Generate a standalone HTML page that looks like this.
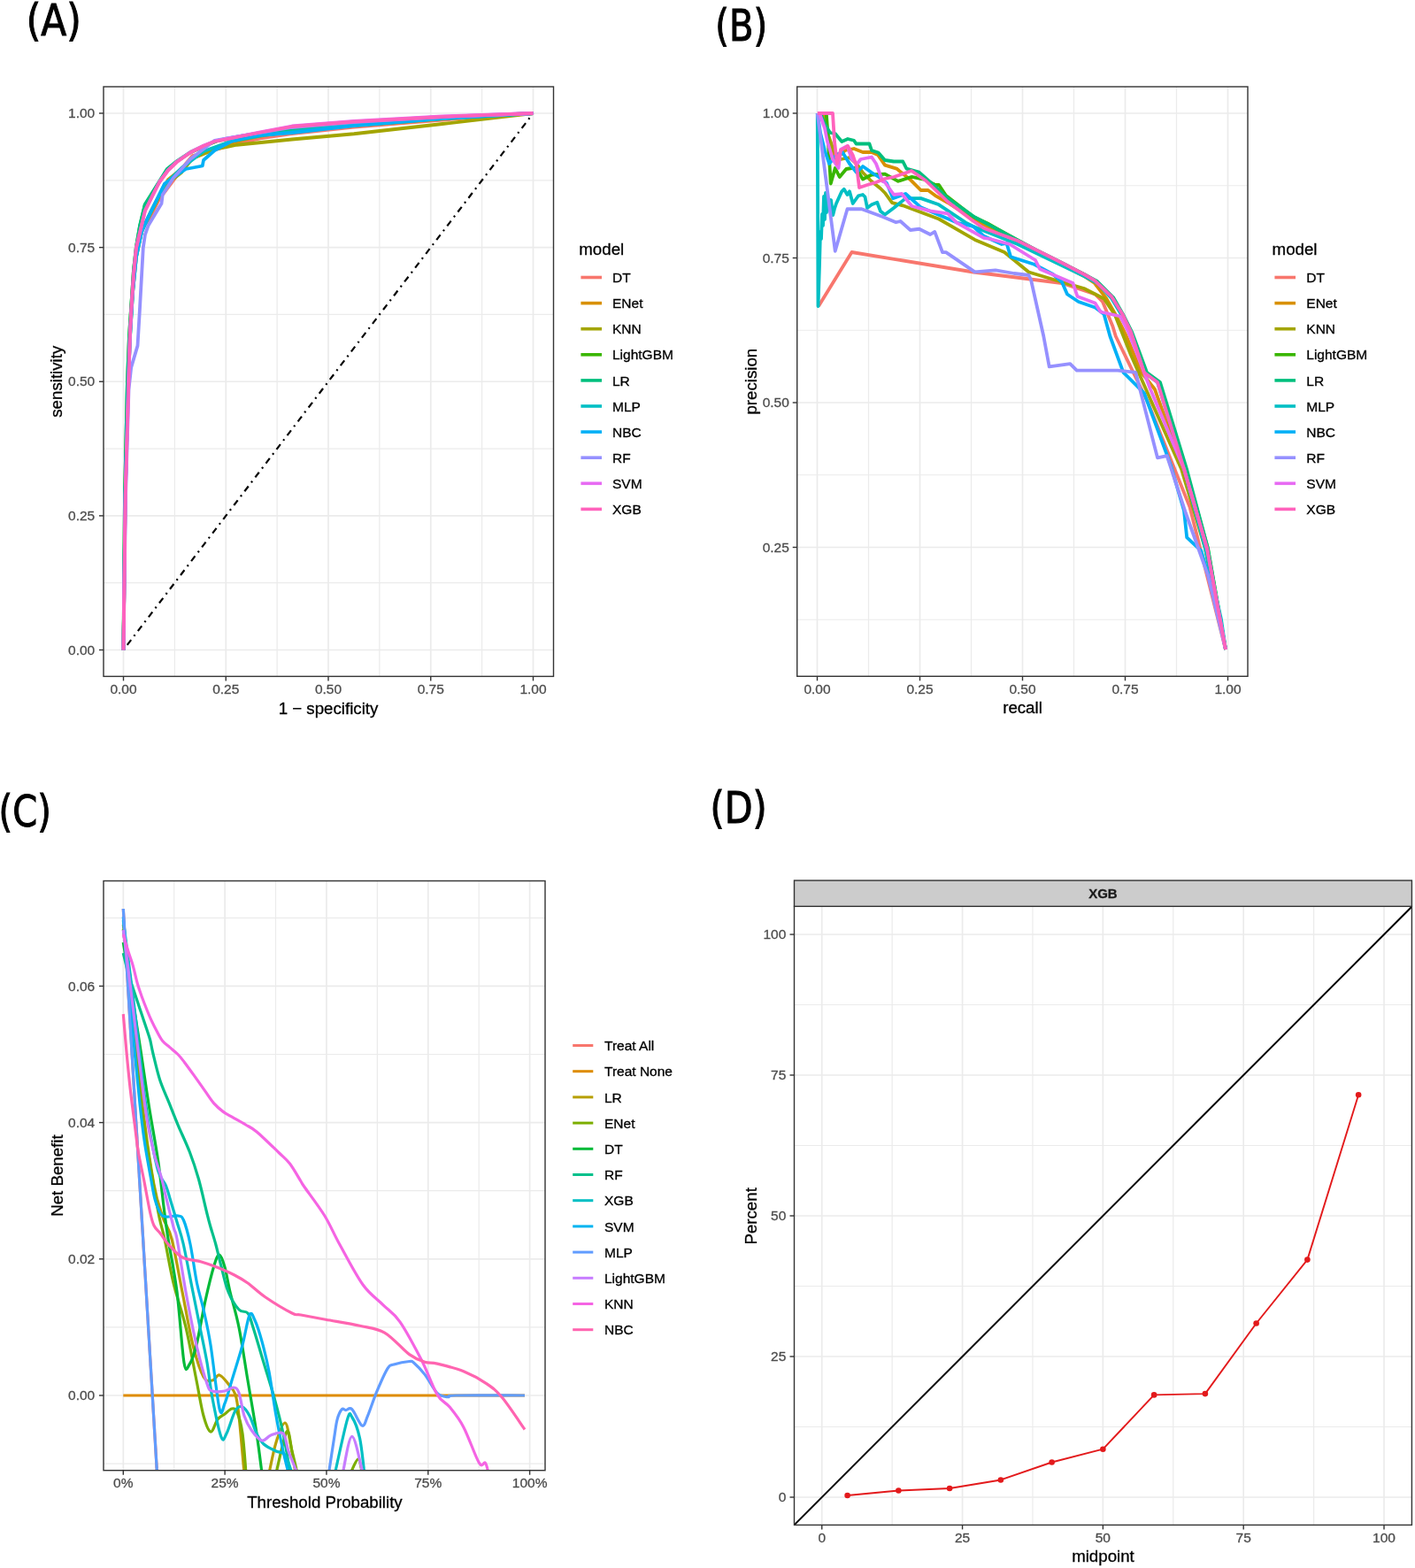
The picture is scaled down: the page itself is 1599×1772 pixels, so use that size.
<!DOCTYPE html>
<html><head><meta charset="utf-8"><title>Model evaluation plots</title>
<style>html,body{margin:0;padding:0;background:#fff;overflow:hidden;width:1599px;height:1772px;}svg{display:block;}
text{font-family:"Liberation Sans",Arial,sans-serif;}
.lab{font-family:"DejaVu Sans Condensed","DejaVu Sans","Liberation Sans",sans-serif;font-stretch:condensed;}
</style></head><body>
<svg width="1599" height="1772" viewBox="0 0 1599 1772">
<rect x="0" y="0" width="1599" height="1772" fill="#fff"/>
<rect x="117" y="98" width="508.5" height="666.4" fill="#fff"/>
<line x1="197.38" y1="98" x2="197.38" y2="764.4" stroke="#EBEBEB" stroke-width="1.2"/>
<line x1="313.12" y1="98" x2="313.12" y2="764.4" stroke="#EBEBEB" stroke-width="1.2"/>
<line x1="428.88" y1="98" x2="428.88" y2="764.4" stroke="#EBEBEB" stroke-width="1.2"/>
<line x1="544.62" y1="98" x2="544.62" y2="764.4" stroke="#EBEBEB" stroke-width="1.2"/>
<line x1="117" y1="658.69" x2="625.5" y2="658.69" stroke="#EBEBEB" stroke-width="1.2"/>
<line x1="117" y1="507.06" x2="625.5" y2="507.06" stroke="#EBEBEB" stroke-width="1.2"/>
<line x1="117" y1="355.44" x2="625.5" y2="355.44" stroke="#EBEBEB" stroke-width="1.2"/>
<line x1="117" y1="203.81" x2="625.5" y2="203.81" stroke="#EBEBEB" stroke-width="1.2"/>
<line x1="139.5" y1="98" x2="139.5" y2="764.4" stroke="#EBEBEB" stroke-width="1.7"/>
<line x1="255.25" y1="98" x2="255.25" y2="764.4" stroke="#EBEBEB" stroke-width="1.7"/>
<line x1="371" y1="98" x2="371" y2="764.4" stroke="#EBEBEB" stroke-width="1.7"/>
<line x1="486.75" y1="98" x2="486.75" y2="764.4" stroke="#EBEBEB" stroke-width="1.7"/>
<line x1="602.5" y1="98" x2="602.5" y2="764.4" stroke="#EBEBEB" stroke-width="1.7"/>
<line x1="117" y1="734.5" x2="625.5" y2="734.5" stroke="#EBEBEB" stroke-width="1.7"/>
<line x1="117" y1="582.88" x2="625.5" y2="582.88" stroke="#EBEBEB" stroke-width="1.7"/>
<line x1="117" y1="431.25" x2="625.5" y2="431.25" stroke="#EBEBEB" stroke-width="1.7"/>
<line x1="117" y1="279.62" x2="625.5" y2="279.62" stroke="#EBEBEB" stroke-width="1.7"/>
<line x1="117" y1="128" x2="625.5" y2="128" stroke="#EBEBEB" stroke-width="1.7"/>
<line x1="139.5" y1="734.5" x2="602.5" y2="128" stroke="#000" stroke-width="2.2" stroke-dasharray="7.2,5.3,2,5.36" stroke-dashoffset="12.8"/>
<polyline points="139.5,734.5 141.6,560 144.8,432 146.6,381 148.4,350 151.5,306 154.5,279 159.5,259 168.75,247.5 180,225 195,205 210,185 217.5,176 244.4,168.8 267,162.5 294,156.4 330,151 400,143.5 500,135.5 602.5,128" fill="none" stroke="#F8766D" stroke-width="3.8" stroke-linejoin="round" stroke-linecap="butt"/>
<polyline points="139.5,734.5 141.6,560 144.8,432 146.6,381 148.4,350 151.5,306 154.5,279 159.5,259 168,246 180,222 190,203 205,191 217.5,179 242.5,168.75 267,160 292.5,154 330,148 400,142 500,134.5 602.5,128" fill="none" stroke="#D89000" stroke-width="3.8" stroke-linejoin="round" stroke-linecap="butt"/>
<polyline points="139.5,734.5 141.5,560 145,430 147,380 150,330 154,290 160,262 170,240 186,210 205,195 217.5,178.75 242.5,168.75 267.5,163.75 330,157.5 400,151.25 500,140 602.5,128" fill="none" stroke="#A3A500" stroke-width="3.8" stroke-linejoin="round" stroke-linecap="butt"/>
<polyline points="139.5,734.5 141,560 144,430 146,380 148,350 151,305 154,279 158,256 163.75,232 175,214 188.75,192 200,182.5 215,172.5 230,165.5 245,159.5 270,154.5 300,149.5 330,145 400,139 500,133 602.5,128" fill="none" stroke="#39B600" stroke-width="3.8" stroke-linejoin="round" stroke-linecap="butt"/>
<polyline points="139.5,734.5 141,560 144,430 146,380 148,350 151,305 154,278 158,255 163.75,231 175,213 188.75,191 200,182 215,172 230,165 245,159 270,154 300,149 330,145 400,139 500,133 602.5,128" fill="none" stroke="#00BF7D" stroke-width="3.8" stroke-linejoin="round" stroke-linecap="butt"/>
<polyline points="139.5,734.5 141.5,560 145,430 147,380 150,330 154,290 160,262 167.5,246 186,208.5 205,190 230,171 260,160 300,152.5 330,149 400,141.5 500,134 602.5,128" fill="none" stroke="#00BFC4" stroke-width="3.8" stroke-linejoin="round" stroke-linecap="butt"/>
<polyline points="139.5,734.5 141.5,560 145,430 147,380 150,330 154,290 160,262 167.5,245 186,207.5 210,191 228.75,187.5 230,181 242.5,170 261,160 290,153 330,150 400,142 500,134 602.5,128" fill="none" stroke="#00B0F6" stroke-width="3.8" stroke-linejoin="round" stroke-linecap="butt"/>
<polyline points="139.5,734.5 142,560 145.5,440 148.2,415.4 155.5,390.6 157.8,352 161.8,280 164,265 167.5,255 182.5,230 183.75,220 196,201 215,180 242.5,158.75 270,154 300,149 330,144 400,138 500,132 602.5,128" fill="none" stroke="#9590FF" stroke-width="3.8" stroke-linejoin="round" stroke-linecap="butt"/>
<polyline points="139.5,734.5 141.8,557.8 145.4,431 146.9,380 148.3,352 151.1,310 154,280 158.9,259.5 164,238 172.2,221.5 180.2,205.5 190.2,192 200.2,182.5 215.2,172 230.2,164.5 242.7,159.5 267.7,154.5 292.7,149.5 330,142.5 400,137 500,131.5 602.5,128" fill="none" stroke="#E76BF3" stroke-width="3.8" stroke-linejoin="round" stroke-linecap="butt"/>
<polyline points="139.5,734.5 141.7,557.8 145.3,431 146.8,380 148.2,352 151,310 153.9,280 158.75,259.9 163.75,238.75 172,222 180,206 190,192.5 200,183 215,172.5 230,165 242.5,160 267.5,155 292.5,150 330,143 400,137.5 500,132 602.5,128" fill="none" stroke="#FF62BC" stroke-width="3.8" stroke-linejoin="round" stroke-linecap="butt"/>
<rect x="117" y="98" width="508.5" height="666.4" fill="none" stroke="#333333" stroke-width="1.4"/>
<line x1="139.5" y1="764.4" x2="139.5" y2="769.4" stroke="#333333" stroke-width="1.4"/>
<text x="139.5" y="784.3" font-size="15.5" fill="#4D4D4D" stroke="#4D4D4D" stroke-width="0.3" text-anchor="middle">0.00</text>
<line x1="255.25" y1="764.4" x2="255.25" y2="769.4" stroke="#333333" stroke-width="1.4"/>
<text x="255.25" y="784.3" font-size="15.5" fill="#4D4D4D" stroke="#4D4D4D" stroke-width="0.3" text-anchor="middle">0.25</text>
<line x1="371" y1="764.4" x2="371" y2="769.4" stroke="#333333" stroke-width="1.4"/>
<text x="371" y="784.3" font-size="15.5" fill="#4D4D4D" stroke="#4D4D4D" stroke-width="0.3" text-anchor="middle">0.50</text>
<line x1="486.75" y1="764.4" x2="486.75" y2="769.4" stroke="#333333" stroke-width="1.4"/>
<text x="486.75" y="784.3" font-size="15.5" fill="#4D4D4D" stroke="#4D4D4D" stroke-width="0.3" text-anchor="middle">0.75</text>
<line x1="602.5" y1="764.4" x2="602.5" y2="769.4" stroke="#333333" stroke-width="1.4"/>
<text x="602.5" y="784.3" font-size="15.5" fill="#4D4D4D" stroke="#4D4D4D" stroke-width="0.3" text-anchor="middle">1.00</text>
<line x1="112" y1="734.5" x2="117" y2="734.5" stroke="#333333" stroke-width="1.4"/>
<text x="107.2" y="739.6" font-size="15.5" fill="#4D4D4D" stroke="#4D4D4D" stroke-width="0.3" text-anchor="end">0.00</text>
<line x1="112" y1="582.88" x2="117" y2="582.88" stroke="#333333" stroke-width="1.4"/>
<text x="107.2" y="587.98" font-size="15.5" fill="#4D4D4D" stroke="#4D4D4D" stroke-width="0.3" text-anchor="end">0.25</text>
<line x1="112" y1="431.25" x2="117" y2="431.25" stroke="#333333" stroke-width="1.4"/>
<text x="107.2" y="436.35" font-size="15.5" fill="#4D4D4D" stroke="#4D4D4D" stroke-width="0.3" text-anchor="end">0.50</text>
<line x1="112" y1="279.62" x2="117" y2="279.62" stroke="#333333" stroke-width="1.4"/>
<text x="107.2" y="284.73" font-size="15.5" fill="#4D4D4D" stroke="#4D4D4D" stroke-width="0.3" text-anchor="end">0.75</text>
<line x1="112" y1="128" x2="117" y2="128" stroke="#333333" stroke-width="1.4"/>
<text x="107.2" y="133.1" font-size="15.5" fill="#4D4D4D" stroke="#4D4D4D" stroke-width="0.3" text-anchor="end">1.00</text>
<text x="371" y="806.5" font-size="18.7" fill="#000" stroke="#000" stroke-width="0.3" text-anchor="middle">1 &#8722; specificity</text>
<text x="0" y="0" font-size="18.7" fill="#000" stroke="#000" stroke-width="0.3" text-anchor="middle" transform="translate(70.3,431.25) rotate(-90)">sensitivity</text>
<text x="654.3" y="287.8" font-size="18.7" fill="#000" stroke="#000" stroke-width="0.3" text-anchor="start">model</text>
<line x1="656.4" y1="313.5" x2="680" y2="313.5" stroke="#F8766D" stroke-width="3.6"/>
<text x="692" y="319.1" font-size="15.5" fill="#000" stroke="#000" stroke-width="0.3" text-anchor="start">DT</text>
<line x1="656.4" y1="342.6" x2="680" y2="342.6" stroke="#D89000" stroke-width="3.6"/>
<text x="692" y="348.2" font-size="15.5" fill="#000" stroke="#000" stroke-width="0.3" text-anchor="start">ENet</text>
<line x1="656.4" y1="371.7" x2="680" y2="371.7" stroke="#A3A500" stroke-width="3.6"/>
<text x="692" y="377.3" font-size="15.5" fill="#000" stroke="#000" stroke-width="0.3" text-anchor="start">KNN</text>
<line x1="656.4" y1="400.8" x2="680" y2="400.8" stroke="#39B600" stroke-width="3.6"/>
<text x="692" y="406.4" font-size="15.5" fill="#000" stroke="#000" stroke-width="0.3" text-anchor="start">LightGBM</text>
<line x1="656.4" y1="429.9" x2="680" y2="429.9" stroke="#00BF7D" stroke-width="3.6"/>
<text x="692" y="435.5" font-size="15.5" fill="#000" stroke="#000" stroke-width="0.3" text-anchor="start">LR</text>
<line x1="656.4" y1="459" x2="680" y2="459" stroke="#00BFC4" stroke-width="3.6"/>
<text x="692" y="464.6" font-size="15.5" fill="#000" stroke="#000" stroke-width="0.3" text-anchor="start">MLP</text>
<line x1="656.4" y1="488.1" x2="680" y2="488.1" stroke="#00B0F6" stroke-width="3.6"/>
<text x="692" y="493.7" font-size="15.5" fill="#000" stroke="#000" stroke-width="0.3" text-anchor="start">NBC</text>
<line x1="656.4" y1="517.2" x2="680" y2="517.2" stroke="#9590FF" stroke-width="3.6"/>
<text x="692" y="522.8" font-size="15.5" fill="#000" stroke="#000" stroke-width="0.3" text-anchor="start">RF</text>
<line x1="656.4" y1="546.3" x2="680" y2="546.3" stroke="#E76BF3" stroke-width="3.6"/>
<text x="692" y="551.9" font-size="15.5" fill="#000" stroke="#000" stroke-width="0.3" text-anchor="start">SVM</text>
<line x1="656.4" y1="575.4" x2="680" y2="575.4" stroke="#FF62BC" stroke-width="3.6"/>
<text x="692" y="581" font-size="15.5" fill="#000" stroke="#000" stroke-width="0.3" text-anchor="start">XGB</text>
<rect x="900.75" y="98" width="509.25" height="666.3" fill="#fff"/>
<line x1="981.5" y1="98" x2="981.5" y2="764.3" stroke="#EBEBEB" stroke-width="1.2"/>
<line x1="1097.5" y1="98" x2="1097.5" y2="764.3" stroke="#EBEBEB" stroke-width="1.2"/>
<line x1="1213.5" y1="98" x2="1213.5" y2="764.3" stroke="#EBEBEB" stroke-width="1.2"/>
<line x1="1329.5" y1="98" x2="1329.5" y2="764.3" stroke="#EBEBEB" stroke-width="1.2"/>
<line x1="900.75" y1="700.25" x2="1410" y2="700.25" stroke="#EBEBEB" stroke-width="1.2"/>
<line x1="900.75" y1="536.75" x2="1410" y2="536.75" stroke="#EBEBEB" stroke-width="1.2"/>
<line x1="900.75" y1="373.25" x2="1410" y2="373.25" stroke="#EBEBEB" stroke-width="1.2"/>
<line x1="900.75" y1="209.75" x2="1410" y2="209.75" stroke="#EBEBEB" stroke-width="1.2"/>
<line x1="923.5" y1="98" x2="923.5" y2="764.3" stroke="#EBEBEB" stroke-width="1.7"/>
<line x1="1039.5" y1="98" x2="1039.5" y2="764.3" stroke="#EBEBEB" stroke-width="1.7"/>
<line x1="1155.5" y1="98" x2="1155.5" y2="764.3" stroke="#EBEBEB" stroke-width="1.7"/>
<line x1="1271.5" y1="98" x2="1271.5" y2="764.3" stroke="#EBEBEB" stroke-width="1.7"/>
<line x1="1387.5" y1="98" x2="1387.5" y2="764.3" stroke="#EBEBEB" stroke-width="1.7"/>
<line x1="900.75" y1="618.5" x2="1410" y2="618.5" stroke="#EBEBEB" stroke-width="1.7"/>
<line x1="900.75" y1="455" x2="1410" y2="455" stroke="#EBEBEB" stroke-width="1.7"/>
<line x1="900.75" y1="291.5" x2="1410" y2="291.5" stroke="#EBEBEB" stroke-width="1.7"/>
<line x1="900.75" y1="128" x2="1410" y2="128" stroke="#EBEBEB" stroke-width="1.7"/>
<polyline points="925,346 962.5,285 1100,307.5 1200,320 1237.5,332.5 1246,341 1257.5,369 1260.8,380 1297.3,455 1344.5,573 1385,734" fill="none" stroke="#F8766D" stroke-width="3.8" stroke-linejoin="round" stroke-linecap="butt"/>
<polyline points="930,128 935,150 940,170 945,180 955,170 965,168 975,172 985,172 992,175 1000,186.6 1013.2,190.6 1029.5,203.8 1040.6,215 1048.8,215 1056.9,221.1 1071,229 1100,248 1145,270 1170,283 1200,299 1225,312 1237,320 1250,337 1262,358 1272,378 1290,421 1305,440 1337,530 1363,620 1385,734" fill="none" stroke="#D89000" stroke-width="3.8" stroke-linejoin="round" stroke-linecap="butt"/>
<polyline points="928,128 935,150 942,170 950,180 960,178 968,185 975,195 985,205 995,213 1000,218 1008.1,229.2 1020.3,232.3 1061,247.5 1101.6,270.9 1135,285 1150,297.3 1162.5,307.5 1200,318.75 1225,326 1247.5,337.5 1260,356 1277.5,400 1295,440 1335,530 1362,620 1385,734" fill="none" stroke="#A3A500" stroke-width="3.8" stroke-linejoin="round" stroke-linecap="butt"/>
<polyline points="933.75,128 935,145 936,162.5 938.75,207.5 943.75,190 948.75,200 956.25,191 962.5,190 967.5,190 975,202.5 985,197.5 1000,196.7 1015,204.8 1030.5,199.8 1045,203 1057,209 1061,209 1069,221 1100,245 1116,252.5 1145,268.75 1170,282.5 1200,297.5 1225,310 1237.5,317.5 1256,335 1268.75,356 1277.5,375 1295,421 1310,432 1340,530 1365,620 1385,734" fill="none" stroke="#39B600" stroke-width="3.8" stroke-linejoin="round" stroke-linecap="butt"/>
<polyline points="927,128 932,140 938,150 943.75,151 951.25,160 958,157 965,158.75 967.5,162.5 982.5,162.5 985,170 992.5,172.5 1000,181 1010,182.5 1020.3,182.5 1024.4,190.6 1038.6,194.7 1054.8,208.9 1071.1,224.1 1101.6,245.5 1147.3,269.9 1170,282 1200,297 1225,310 1240,318 1258,336 1270,357 1279,375 1296,421 1311,432 1341,530 1365,620 1385,734" fill="none" stroke="#00BF7D" stroke-width="3.8" stroke-linejoin="round" stroke-linecap="butt"/>
<polyline points="923.75,128 924.5,346 926,300 927,262 928,270 929,242 930,255 931,222 932,248 933,218 934,240 935,228.75 937,236 939,226 941.25,243 943,236 945,230 951.25,216.25 953.75,213.75 957.5,220 960,216.25 963.75,230 970,221.25 975,220 977.5,222.5 980,235 985,231.25 991.25,228.75 995,238.75 1000,242.5 1010,235 1023.4,224.1 1040.6,224.1 1061,231.3 1091.4,251.6 1100,256 1150,276 1200,300 1225,312 1240,320 1256,337 1268,357 1278,376 1293,421 1308,432 1338,530 1362,620 1380,700 1385,734" fill="none" stroke="#00BFC4" stroke-width="3.8" stroke-linejoin="round" stroke-linecap="butt"/>
<polyline points="923.75,128 927,150 932,170 937,185 945,175 952,172 960,185 968,195 975,188 985,195 993,200 1002,206.9 1009.1,224.1 1023.4,219 1040.6,234.3 1081.3,251.6 1100,256 1111.7,266.8 1132,276 1137.5,275 1142.2,290.2 1168.75,298.75 1190,310 1200,318.75 1206,332.5 1218.75,341 1237.5,347.5 1247.5,355 1254.4,380 1269.4,420.8 1293,444.3 1323,525.8 1338,577.3 1341.2,607.3 1357.3,622.4 1374.5,680.3 1385,734" fill="none" stroke="#00B0F6" stroke-width="3.8" stroke-linejoin="round" stroke-linecap="butt"/>
<polyline points="923.75,128 943.75,283.75 957.5,236.25 973.75,236.25 997.5,245 1012.5,251.25 1017.5,250 1028.75,260 1038.75,258.75 1051.25,265 1056.25,261.9 1065,285 1069,285.1 1101.6,307.4 1124.9,305.4 1146,309 1162.5,311 1165,316 1179.3,380 1185.7,414.3 1209.3,411.1 1216.8,418.6 1230.8,418.6 1263,418.6 1283.3,420.8 1308,517.3 1318.7,515.1 1340,580 1365,650 1385,734" fill="none" stroke="#9590FF" stroke-width="3.8" stroke-linejoin="round" stroke-linecap="butt"/>
<polyline points="926,128 932,145 935,160 941,180 947.5,190 950,169 957.5,165 962.5,180 968.75,185 972.5,180 985,177.5 990,185 997.5,205 1000,206 1010,220 1019,219 1030.5,233 1050.8,238.4 1071,241.4 1081,251.6 1111.7,268.8 1118.75,270 1141,276 1170,294 1175,304 1212.5,320 1217.5,335 1237.5,342.5 1243.75,352.5 1266,357.5 1275,375 1285,400 1300,440 1338,530 1364,620 1385,734" fill="none" stroke="#E76BF3" stroke-width="3.8" stroke-linejoin="round" stroke-linecap="butt"/>
<polyline points="923.75,128 941,128 943,160 946,185 950,170 958,165 964,176 968,188 971,212 980,209 990,206 1000,202 1010,200 1030,193 1046,204 1071,228 1100,250 1112,258 1150,272 1170,282 1200,297 1225,310 1237,317 1256,335 1269,356 1278,375 1293,421 1308,432 1338,530 1364,620 1385,734" fill="none" stroke="#FF62BC" stroke-width="3.8" stroke-linejoin="round" stroke-linecap="butt"/>
<rect x="900.75" y="98" width="509.25" height="666.3" fill="none" stroke="#333333" stroke-width="1.4"/>
<line x1="923.5" y1="764.3" x2="923.5" y2="769.3" stroke="#333333" stroke-width="1.4"/>
<text x="923.5" y="784" font-size="15.5" fill="#4D4D4D" stroke="#4D4D4D" stroke-width="0.3" text-anchor="middle">0.00</text>
<line x1="1039.5" y1="764.3" x2="1039.5" y2="769.3" stroke="#333333" stroke-width="1.4"/>
<text x="1039.5" y="784" font-size="15.5" fill="#4D4D4D" stroke="#4D4D4D" stroke-width="0.3" text-anchor="middle">0.25</text>
<line x1="1155.5" y1="764.3" x2="1155.5" y2="769.3" stroke="#333333" stroke-width="1.4"/>
<text x="1155.5" y="784" font-size="15.5" fill="#4D4D4D" stroke="#4D4D4D" stroke-width="0.3" text-anchor="middle">0.50</text>
<line x1="1271.5" y1="764.3" x2="1271.5" y2="769.3" stroke="#333333" stroke-width="1.4"/>
<text x="1271.5" y="784" font-size="15.5" fill="#4D4D4D" stroke="#4D4D4D" stroke-width="0.3" text-anchor="middle">0.75</text>
<line x1="1387.5" y1="764.3" x2="1387.5" y2="769.3" stroke="#333333" stroke-width="1.4"/>
<text x="1387.5" y="784" font-size="15.5" fill="#4D4D4D" stroke="#4D4D4D" stroke-width="0.3" text-anchor="middle">1.00</text>
<line x1="895.75" y1="618.5" x2="900.75" y2="618.5" stroke="#333333" stroke-width="1.4"/>
<text x="891.8" y="623.6" font-size="15.5" fill="#4D4D4D" stroke="#4D4D4D" stroke-width="0.3" text-anchor="end">0.25</text>
<line x1="895.75" y1="455" x2="900.75" y2="455" stroke="#333333" stroke-width="1.4"/>
<text x="891.8" y="460.1" font-size="15.5" fill="#4D4D4D" stroke="#4D4D4D" stroke-width="0.3" text-anchor="end">0.50</text>
<line x1="895.75" y1="291.5" x2="900.75" y2="291.5" stroke="#333333" stroke-width="1.4"/>
<text x="891.8" y="296.6" font-size="15.5" fill="#4D4D4D" stroke="#4D4D4D" stroke-width="0.3" text-anchor="end">0.75</text>
<line x1="895.75" y1="128" x2="900.75" y2="128" stroke="#333333" stroke-width="1.4"/>
<text x="891.8" y="133.1" font-size="15.5" fill="#4D4D4D" stroke="#4D4D4D" stroke-width="0.3" text-anchor="end">1.00</text>
<text x="1155.5" y="806.3" font-size="18.7" fill="#000" stroke="#000" stroke-width="0.3" text-anchor="middle">recall</text>
<text x="0" y="0" font-size="18.7" fill="#000" stroke="#000" stroke-width="0.3" text-anchor="middle" transform="translate(854.5,431.15) rotate(-90)">precision</text>
<text x="1437.6" y="287.8" font-size="18.7" fill="#000" stroke="#000" stroke-width="0.3" text-anchor="start">model</text>
<line x1="1440.4" y1="313.5" x2="1464" y2="313.5" stroke="#F8766D" stroke-width="3.6"/>
<text x="1476.3" y="319.1" font-size="15.5" fill="#000" stroke="#000" stroke-width="0.3" text-anchor="start">DT</text>
<line x1="1440.4" y1="342.6" x2="1464" y2="342.6" stroke="#D89000" stroke-width="3.6"/>
<text x="1476.3" y="348.2" font-size="15.5" fill="#000" stroke="#000" stroke-width="0.3" text-anchor="start">ENet</text>
<line x1="1440.4" y1="371.7" x2="1464" y2="371.7" stroke="#A3A500" stroke-width="3.6"/>
<text x="1476.3" y="377.3" font-size="15.5" fill="#000" stroke="#000" stroke-width="0.3" text-anchor="start">KNN</text>
<line x1="1440.4" y1="400.8" x2="1464" y2="400.8" stroke="#39B600" stroke-width="3.6"/>
<text x="1476.3" y="406.4" font-size="15.5" fill="#000" stroke="#000" stroke-width="0.3" text-anchor="start">LightGBM</text>
<line x1="1440.4" y1="429.9" x2="1464" y2="429.9" stroke="#00BF7D" stroke-width="3.6"/>
<text x="1476.3" y="435.5" font-size="15.5" fill="#000" stroke="#000" stroke-width="0.3" text-anchor="start">LR</text>
<line x1="1440.4" y1="459" x2="1464" y2="459" stroke="#00BFC4" stroke-width="3.6"/>
<text x="1476.3" y="464.6" font-size="15.5" fill="#000" stroke="#000" stroke-width="0.3" text-anchor="start">MLP</text>
<line x1="1440.4" y1="488.1" x2="1464" y2="488.1" stroke="#00B0F6" stroke-width="3.6"/>
<text x="1476.3" y="493.7" font-size="15.5" fill="#000" stroke="#000" stroke-width="0.3" text-anchor="start">NBC</text>
<line x1="1440.4" y1="517.2" x2="1464" y2="517.2" stroke="#9590FF" stroke-width="3.6"/>
<text x="1476.3" y="522.8" font-size="15.5" fill="#000" stroke="#000" stroke-width="0.3" text-anchor="start">RF</text>
<line x1="1440.4" y1="546.3" x2="1464" y2="546.3" stroke="#E76BF3" stroke-width="3.6"/>
<text x="1476.3" y="551.9" font-size="15.5" fill="#000" stroke="#000" stroke-width="0.3" text-anchor="start">SVM</text>
<line x1="1440.4" y1="575.4" x2="1464" y2="575.4" stroke="#FF62BC" stroke-width="3.6"/>
<text x="1476.3" y="581" font-size="15.5" fill="#000" stroke="#000" stroke-width="0.3" text-anchor="start">XGB</text>
<rect x="117" y="995.5" width="499" height="666.2" fill="#fff"/>
<line x1="196.71" y1="995.5" x2="196.71" y2="1661.7" stroke="#EBEBEB" stroke-width="1.2"/>
<line x1="311.54" y1="995.5" x2="311.54" y2="1661.7" stroke="#EBEBEB" stroke-width="1.2"/>
<line x1="426.36" y1="995.5" x2="426.36" y2="1661.7" stroke="#EBEBEB" stroke-width="1.2"/>
<line x1="541.19" y1="995.5" x2="541.19" y2="1661.7" stroke="#EBEBEB" stroke-width="1.2"/>
<line x1="117" y1="1654.1" x2="616" y2="1654.1" stroke="#EBEBEB" stroke-width="1.2"/>
<line x1="117" y1="1499.9" x2="616" y2="1499.9" stroke="#EBEBEB" stroke-width="1.2"/>
<line x1="117" y1="1345.7" x2="616" y2="1345.7" stroke="#EBEBEB" stroke-width="1.2"/>
<line x1="117" y1="1191.5" x2="616" y2="1191.5" stroke="#EBEBEB" stroke-width="1.2"/>
<line x1="117" y1="1037.3" x2="616" y2="1037.3" stroke="#EBEBEB" stroke-width="1.2"/>
<line x1="139.3" y1="995.5" x2="139.3" y2="1661.7" stroke="#EBEBEB" stroke-width="1.7"/>
<line x1="254.12" y1="995.5" x2="254.12" y2="1661.7" stroke="#EBEBEB" stroke-width="1.7"/>
<line x1="368.95" y1="995.5" x2="368.95" y2="1661.7" stroke="#EBEBEB" stroke-width="1.7"/>
<line x1="483.78" y1="995.5" x2="483.78" y2="1661.7" stroke="#EBEBEB" stroke-width="1.7"/>
<line x1="598.6" y1="995.5" x2="598.6" y2="1661.7" stroke="#EBEBEB" stroke-width="1.7"/>
<line x1="117" y1="1577" x2="616" y2="1577" stroke="#EBEBEB" stroke-width="1.7"/>
<line x1="117" y1="1422.8" x2="616" y2="1422.8" stroke="#EBEBEB" stroke-width="1.7"/>
<line x1="117" y1="1268.6" x2="616" y2="1268.6" stroke="#EBEBEB" stroke-width="1.7"/>
<line x1="117" y1="1114.4" x2="616" y2="1114.4" stroke="#EBEBEB" stroke-width="1.7"/>
<clipPath id="clipC"><rect x="117.0" y="995.5" width="499.0" height="666.2"/></clipPath>
<g clip-path="url(#clipC)">
<polyline points="139.3,1027 177.5,1665" fill="none" stroke="#F8766D" stroke-width="3.2" stroke-linejoin="round" stroke-linecap="butt"/>
<polyline points="139.3,1577 593,1577" fill="none" stroke="#DE8C00" stroke-width="3.2" stroke-linejoin="round" stroke-linecap="butt"/>
<path d="M139.3,1045 C141.08,1059.17 146.34,1095.83 150,1130 C153.66,1164.17 157.29,1215.42 161.25,1250 C165.21,1284.58 170,1316.67 173.75,1337.5 C177.5,1358.33 180.38,1364.58 183.75,1375 C187.12,1385.42 190.29,1385.83 194,1400 C197.71,1414.17 202,1440 206,1460 C210,1480 214,1504 218,1520 C222,1536 226.33,1549.33 230,1556 C233.67,1562.67 237,1560.33 240,1560 C243,1559.67 245,1553.33 248,1554 C251,1554.67 255,1560.33 258,1564 C261,1567.67 264,1570 266,1576 C268,1582 268.33,1585.17 270,1600 C271.67,1614.83 275,1654.17 276,1665" fill="none" stroke="#B79F00" stroke-width="3.2" stroke-linejoin="round"/>
<path d="M304,1665 C305.33,1659.17 309,1639.5 312,1630 C315,1620.5 319.33,1608 322,1608 C324.67,1608 326,1620.5 328,1630 C330,1639.5 333,1659.17 334,1665" fill="none" stroke="#B79F00" stroke-width="3.2" stroke-linejoin="round"/>
<path d="M139.3,1050 C141.08,1065 146.55,1106.67 150,1140 C153.45,1173.33 155.42,1212.92 160,1250 C164.58,1287.08 173.17,1337.5 177.5,1362.5 C181.83,1387.5 182.92,1385.42 186,1400 C189.08,1414.58 192,1433.33 196,1450 C200,1466.67 205.67,1481.67 210,1500 C214.33,1518.33 218.67,1543.33 222,1560 C225.33,1576.67 227.33,1590.33 230,1600 C232.67,1609.67 235.33,1617.33 238,1618 C240.67,1618.67 243.33,1607.33 246,1604 C248.67,1600.67 251.33,1600 254,1598 C256.67,1596 259.67,1592.33 262,1592 C264.33,1591.67 266,1591.33 268,1596 C270,1600.67 272.33,1608.5 274,1620 C275.67,1631.5 277.33,1657.5 278,1665" fill="none" stroke="#7CAE00" stroke-width="3.2" stroke-linejoin="round"/>
<path d="M312,1665 C314,1657.17 321,1622.17 324,1618 C327,1613.83 328,1632.17 330,1640 C332,1647.83 335,1660.83 336,1665" fill="none" stroke="#7CAE00" stroke-width="3.2" stroke-linejoin="round"/>
<path d="M396,1665 C397.47,1662.3 402.6,1648.8 404.8,1648.8 C407,1648.8 408.47,1662.3 409.2,1665" fill="none" stroke="#7CAE00" stroke-width="3.2" stroke-linejoin="round"/>
<path d="M139.3,1065 C141.08,1075.83 146.65,1109.17 150,1130 C153.35,1150.83 156.32,1169.83 159.4,1190 C162.48,1210.17 165.28,1230.67 168.5,1251 C171.72,1271.33 175.82,1292.17 178.7,1312 C181.58,1331.83 183.92,1355.33 185.8,1370 C187.68,1384.67 187.63,1385 190,1400 C192.37,1415 197,1436.67 200,1460 C203,1483.33 205.67,1526.33 208,1540 C210.33,1553.67 211.67,1545.33 214,1542 C216.33,1538.67 219,1532 222,1520 C225,1508 228.67,1485 232,1470 C235.33,1455 239.33,1438.67 242,1430 C244.67,1421.33 246,1417.67 248,1418 C250,1418.33 252,1425 254,1432 C256,1439 257.33,1448.67 260,1460 C262.67,1471.33 266.67,1483.33 270,1500 C273.33,1516.67 276.67,1540 280,1560 C283.33,1580 287.33,1602.5 290,1620 C292.67,1637.5 295,1657.5 296,1665" fill="none" stroke="#00BA38" stroke-width="3.2" stroke-linejoin="round"/>
<path d="M139.3,1077 C140.28,1081.05 143.38,1094.72 145.2,1101.3 C147.02,1107.88 148.52,1111.42 150.2,1116.5 C151.88,1121.58 153.6,1126.72 155.3,1131.8 C157,1136.88 158.7,1141.92 160.4,1147 C162.1,1152.08 163.97,1157.63 165.5,1162.3 C167.03,1166.97 168.38,1170.38 169.6,1175 C170.82,1179.62 170.95,1182.42 172.8,1190 C174.65,1197.58 177.68,1211.18 180.7,1220.5 C183.72,1229.82 187.5,1237.43 190.9,1245.9 C194.3,1254.37 197.2,1261.98 201.1,1271.3 C205,1280.62 210.42,1291.63 214.3,1301.8 C218.18,1311.97 221.18,1320.93 224.4,1332.3 C227.62,1343.67 231.42,1361.22 233.6,1370 C235.78,1378.78 235.81,1379 237.5,1385 C239.19,1391 241.67,1398.33 243.75,1406 C245.83,1413.67 247.62,1422 250,1431 C252.38,1440 254.67,1451.83 258,1460 C261.33,1468.17 266.33,1476 270,1480 C273.67,1484 277.33,1480.67 280,1484 C282.67,1487.33 283,1490.67 286,1500 C289,1509.33 294,1526.67 298,1540 C302,1553.33 306.33,1566.67 310,1580 C313.67,1593.33 317,1605.83 320,1620 C323,1634.17 326.67,1657.5 328,1665" fill="none" stroke="#00C08B" stroke-width="3.2" stroke-linejoin="round"/>
<path d="M139.3,1040 C141.42,1056.67 147.72,1105 152,1140 C156.28,1175 160.75,1220.17 165,1250 C169.25,1279.83 173.75,1304 177.5,1319 C181.25,1334 185,1333.83 187.5,1340 C190,1346.17 190.42,1349.17 192.5,1356 C194.58,1362.83 197.58,1372.83 200,1381 C202.42,1389.17 204.17,1392.67 207,1405 C209.83,1417.33 213.83,1439.17 217,1455 C220.17,1470.83 223.17,1485.83 226,1500 C228.83,1514.17 231.67,1526.67 234,1540 C236.33,1553.33 237.33,1566 240,1580 C242.67,1594 247.33,1617.33 250,1624 C252.67,1630.67 253.33,1625 256,1620 C258.67,1615 263,1599 266,1594 C269,1589 271.33,1589 274,1590 C276.67,1591 279.33,1595 282,1600 C284.67,1605 287.33,1614.67 290,1620 C292.67,1625.33 294.33,1628.67 298,1632 C301.67,1635.33 308,1638 312,1640 C316,1642 319,1639.83 322,1644 C325,1648.17 328.67,1661.5 330,1665" fill="none" stroke="#00BFC4" stroke-width="3.2" stroke-linejoin="round"/>
<path d="M378.5,1665 C380.83,1654.85 389.28,1614.68 392.5,1604.1 C395.72,1593.52 395.47,1598 397.8,1601.5 C400.13,1605 404.17,1614.52 406.5,1625.1 C408.83,1635.68 410.92,1658.35 411.8,1665" fill="none" stroke="#00BFC4" stroke-width="3.2" stroke-linejoin="round"/>
<path d="M139.3,1036 C140.42,1050 143.83,1094.33 146,1120 C148.17,1145.67 150.23,1168.17 152.3,1190 C154.37,1211.83 156.53,1234.07 158.4,1251 C160.27,1267.93 161.47,1278.05 163.5,1291.6 C165.53,1305.15 168.68,1321.73 170.6,1332.3 C172.52,1342.87 173.22,1348.55 175,1355 C176.78,1361.45 179.17,1367.67 181.25,1371 C183.33,1374.33 184.17,1374.5 187.5,1375 C190.83,1375.5 197.92,1373.33 201.25,1374 C204.58,1374.67 205.21,1373.67 207.5,1379 C209.79,1384.33 212.5,1394.17 215,1406 C217.5,1417.83 220,1437.67 222.5,1450 C225,1462.33 227.42,1468.33 230,1480 C232.58,1491.67 235,1501.33 238,1520 C241,1538.67 245.33,1581 248,1592 C250.67,1603 251.67,1591.33 254,1586 C256.33,1580.67 258.67,1571 262,1560 C265.33,1549 270.67,1532.33 274,1520 C277.33,1507.67 279.67,1490.67 282,1486 C284.33,1481.33 285.67,1487 288,1492 C290.33,1497 293.33,1506.33 296,1516 C298.67,1525.67 301.33,1536 304,1550 C306.67,1564 309.33,1585 312,1600 C314.67,1615 317.67,1629.17 320,1640 C322.33,1650.83 325,1660.83 326,1665" fill="none" stroke="#00B4F0" stroke-width="3.2" stroke-linejoin="round"/>
<polyline points="139.3,1027 177.5,1665" fill="none" stroke="#619CFF" stroke-width="3.2" stroke-linejoin="round" stroke-linecap="butt"/>
<path d="M371.5,1665 C372.52,1658.35 376,1635.25 377.6,1625.1 C379.2,1614.95 379.63,1609.5 381.1,1604.1 C382.57,1598.7 384.78,1594.45 386.4,1592.7 C388.02,1590.95 388.9,1593.6 390.8,1593.6 C392.7,1593.6 394.73,1589.78 397.8,1592.7 C400.87,1595.62 406.28,1609.78 409.2,1611.1 C412.12,1612.42 412.53,1607.02 415.3,1600.6 C418.07,1594.18 422,1581.65 425.8,1572.6 C429.6,1563.55 434.88,1551.4 438.1,1546.3 C441.32,1541.2 441.02,1543.3 445.1,1542 C449.18,1540.7 458.82,1538.8 462.6,1538.5 C466.38,1538.2 464.88,1537.72 467.8,1540.2 C470.72,1542.68 475.72,1547.7 480.1,1553.4 C484.48,1559.1 489.73,1570.18 494.1,1574.4 C498.47,1578.62 502.8,1578.27 506.3,1578.7 C509.8,1579.13 500.65,1577.28 515.1,1577 C529.55,1576.72 580.02,1577 593,1577" fill="none" stroke="#619CFF" stroke-width="3.2" stroke-linejoin="round"/>
<path d="M139.3,1051 C140.75,1062.5 145.17,1096.83 148,1120 C150.83,1143.17 153.38,1166.48 156.3,1190 C159.22,1213.52 162.62,1242.47 165.5,1261.1 C168.38,1279.73 170.72,1289.93 173.6,1301.8 C176.48,1313.67 180.48,1323.85 182.8,1332.3 C185.12,1340.75 185.26,1343.3 187.5,1352.5 C189.74,1361.7 194.17,1379.58 196.25,1387.5 C198.33,1395.42 197.71,1387.92 200,1400 C202.29,1412.08 206.33,1440 210,1460 C213.67,1480 218,1502.67 222,1520 C226,1537.33 231,1555.33 234,1564 C237,1572.67 236.67,1570.67 240,1572 C243.33,1573.33 250,1572.67 254,1572 C258,1571.33 261.33,1567.67 264,1568 C266.67,1568.33 268,1568.67 270,1574 C272,1579.33 273.67,1593 276,1600 C278.33,1607 280.67,1611.33 284,1616 C287.33,1620.67 292.33,1627 296,1628 C299.67,1629 302,1623.33 306,1622 C310,1620.67 316.67,1617 320,1620 C323.33,1623 323.33,1632.5 326,1640 C328.67,1647.5 334.33,1660.83 336,1665" fill="none" stroke="#C77CFF" stroke-width="3.2" stroke-linejoin="round"/>
<path d="M387.3,1665 C389.05,1658.07 394.02,1623.4 397.8,1623.4 C401.58,1623.4 407.97,1658.07 410,1665" fill="none" stroke="#C77CFF" stroke-width="3.2" stroke-linejoin="round"/>
<path d="M139.3,1056 C140.28,1059.32 143.38,1070.05 145.2,1075.9 C147.02,1081.75 148.52,1085.17 150.2,1091.1 C151.88,1097.03 153.6,1105.57 155.3,1111.5 C157,1117.43 158.7,1121.95 160.4,1126.7 C162.1,1131.45 163.8,1135.77 165.5,1140 C167.2,1144.23 168.57,1147.72 170.6,1152.1 C172.63,1156.48 175.5,1162.23 177.7,1166.3 C179.9,1170.37 181.43,1173.62 183.8,1176.5 C186.17,1179.38 189.03,1181.1 191.9,1183.6 C194.77,1186.1 198.28,1188.73 201,1191.5 C203.72,1194.27 205.15,1196.22 208.2,1200.2 C211.25,1204.18 215.42,1209.98 219.3,1215.4 C223.18,1220.82 227.77,1227.45 231.5,1232.7 C235.23,1237.95 238.3,1243 241.7,1246.9 C245.1,1250.8 248.52,1253.55 251.9,1256.1 C255.28,1258.65 257.73,1259.72 262,1262.2 C266.27,1264.68 272.83,1268.2 277.5,1271 C282.17,1273.8 283.75,1273.75 290,1279 C296.25,1284.25 308.75,1296.5 315,1302.5 C321.25,1308.5 323.33,1309.58 327.5,1315 C331.67,1320.42 337.23,1330.58 340,1335 C342.77,1339.42 339.62,1335 344.1,1341.5 C348.58,1348 360.28,1363.2 366.9,1374 C373.52,1384.8 376.62,1393.33 383.8,1406.3 C390.98,1419.27 401.83,1440.42 410,1451.8 C418.17,1463.18 425.8,1467.6 432.8,1474.6 C439.8,1481.6 444.7,1483.3 452,1493.8 C459.3,1504.3 469.58,1523.88 476.6,1537.6 C483.62,1551.32 488.85,1567.35 494.1,1576.1 C499.35,1584.85 503.13,1583.97 508.1,1590.1 C513.07,1596.23 518.35,1602.38 523.9,1612.9 C529.45,1623.42 537.32,1646.48 541.4,1653.2 C545.48,1659.92 546.63,1651.23 548.4,1653.2 C550.17,1655.17 551.4,1663.03 552,1665" fill="none" stroke="#F564E3" stroke-width="3.2" stroke-linejoin="round"/>
<path d="M139.3,1146 C139.93,1153.33 141.78,1175.9 143.1,1190 C144.42,1204.1 145.67,1217.05 147.2,1230.6 C148.73,1244.15 150.78,1259.43 152.3,1271.3 C153.82,1283.17 154.62,1291.63 156.3,1301.8 C157.98,1311.97 160.18,1320.93 162.4,1332.3 C164.62,1343.67 167.67,1361.22 169.6,1370 C171.53,1378.78 172.06,1381 174,1385 C175.94,1389 178.58,1390.5 181.25,1394 C183.92,1397.5 185.83,1401.5 190,1406 C194.17,1410.5 200,1417.67 206.25,1421 C212.5,1424.33 220.83,1424.08 227.5,1426 C234.17,1427.92 240,1430 246.25,1432.5 C252.5,1435 259.38,1438.08 265,1441 C270.62,1443.92 274.17,1445.83 280,1450 C285.83,1454.17 291.67,1460.33 300,1466 C308.33,1471.67 323.33,1480.67 330,1484 C336.67,1487.33 333.67,1484.8 340,1486 C346.33,1487.2 356.92,1489.17 368,1491.2 C379.08,1493.23 395.4,1495.72 406.5,1498.2 C417.6,1500.68 425.25,1500.7 434.6,1506.1 C443.95,1511.5 455.02,1525.07 462.6,1530.6 C470.18,1536.13 474.85,1537.55 480.1,1539.3 C485.35,1541.05 486.8,1539.35 494.1,1541.1 C501.4,1542.85 514.57,1546 523.9,1549.8 C533.23,1553.6 542.82,1558.93 550.1,1563.9 C557.38,1568.87 560.45,1571 567.6,1579.6 C574.75,1588.2 588.77,1609.52 593,1615.5" fill="none" stroke="#FF64B0" stroke-width="3.2" stroke-linejoin="round"/>
</g>
<rect x="117" y="995.5" width="499" height="666.2" fill="none" stroke="#333333" stroke-width="1.4"/>
<line x1="139.3" y1="1661.7" x2="139.3" y2="1666.7" stroke="#333333" stroke-width="1.4"/>
<text x="139.3" y="1681.3" font-size="15.5" fill="#4D4D4D" stroke="#4D4D4D" stroke-width="0.3" text-anchor="middle">0%</text>
<line x1="254.12" y1="1661.7" x2="254.12" y2="1666.7" stroke="#333333" stroke-width="1.4"/>
<text x="254.12" y="1681.3" font-size="15.5" fill="#4D4D4D" stroke="#4D4D4D" stroke-width="0.3" text-anchor="middle">25%</text>
<line x1="368.95" y1="1661.7" x2="368.95" y2="1666.7" stroke="#333333" stroke-width="1.4"/>
<text x="368.95" y="1681.3" font-size="15.5" fill="#4D4D4D" stroke="#4D4D4D" stroke-width="0.3" text-anchor="middle">50%</text>
<line x1="483.78" y1="1661.7" x2="483.78" y2="1666.7" stroke="#333333" stroke-width="1.4"/>
<text x="483.78" y="1681.3" font-size="15.5" fill="#4D4D4D" stroke="#4D4D4D" stroke-width="0.3" text-anchor="middle">75%</text>
<line x1="598.6" y1="1661.7" x2="598.6" y2="1666.7" stroke="#333333" stroke-width="1.4"/>
<text x="598.6" y="1681.3" font-size="15.5" fill="#4D4D4D" stroke="#4D4D4D" stroke-width="0.3" text-anchor="middle">100%</text>
<line x1="112" y1="1577" x2="117" y2="1577" stroke="#333333" stroke-width="1.4"/>
<text x="107.2" y="1582.1" font-size="15.5" fill="#4D4D4D" stroke="#4D4D4D" stroke-width="0.3" text-anchor="end">0.00</text>
<line x1="112" y1="1422.8" x2="117" y2="1422.8" stroke="#333333" stroke-width="1.4"/>
<text x="107.2" y="1427.9" font-size="15.5" fill="#4D4D4D" stroke="#4D4D4D" stroke-width="0.3" text-anchor="end">0.02</text>
<line x1="112" y1="1268.6" x2="117" y2="1268.6" stroke="#333333" stroke-width="1.4"/>
<text x="107.2" y="1273.7" font-size="15.5" fill="#4D4D4D" stroke="#4D4D4D" stroke-width="0.3" text-anchor="end">0.04</text>
<line x1="112" y1="1114.4" x2="117" y2="1114.4" stroke="#333333" stroke-width="1.4"/>
<text x="107.2" y="1119.5" font-size="15.5" fill="#4D4D4D" stroke="#4D4D4D" stroke-width="0.3" text-anchor="end">0.06</text>
<text x="366.95" y="1703.6" font-size="18.7" fill="#000" stroke="#000" stroke-width="0.3" text-anchor="middle">Threshold Probability</text>
<text x="0" y="0" font-size="18.7" fill="#000" stroke="#000" stroke-width="0.3" text-anchor="middle" transform="translate(71.2,1328.6) rotate(-90)">Net Benefit</text>
<line x1="647.2" y1="1181.5" x2="670.3" y2="1181.5" stroke="#F8766D" stroke-width="3.0"/>
<text x="683" y="1187.1" font-size="15.5" fill="#000" stroke="#000" stroke-width="0.3" text-anchor="start">Treat All</text>
<line x1="647.2" y1="1210.7" x2="670.3" y2="1210.7" stroke="#DE8C00" stroke-width="3.0"/>
<text x="683" y="1216.3" font-size="15.5" fill="#000" stroke="#000" stroke-width="0.3" text-anchor="start">Treat None</text>
<line x1="647.2" y1="1239.9" x2="670.3" y2="1239.9" stroke="#B79F00" stroke-width="3.0"/>
<text x="683" y="1245.5" font-size="15.5" fill="#000" stroke="#000" stroke-width="0.3" text-anchor="start">LR</text>
<line x1="647.2" y1="1269.1" x2="670.3" y2="1269.1" stroke="#7CAE00" stroke-width="3.0"/>
<text x="683" y="1274.7" font-size="15.5" fill="#000" stroke="#000" stroke-width="0.3" text-anchor="start">ENet</text>
<line x1="647.2" y1="1298.3" x2="670.3" y2="1298.3" stroke="#00BA38" stroke-width="3.0"/>
<text x="683" y="1303.9" font-size="15.5" fill="#000" stroke="#000" stroke-width="0.3" text-anchor="start">DT</text>
<line x1="647.2" y1="1327.5" x2="670.3" y2="1327.5" stroke="#00C08B" stroke-width="3.0"/>
<text x="683" y="1333.1" font-size="15.5" fill="#000" stroke="#000" stroke-width="0.3" text-anchor="start">RF</text>
<line x1="647.2" y1="1356.7" x2="670.3" y2="1356.7" stroke="#00BFC4" stroke-width="3.0"/>
<text x="683" y="1362.3" font-size="15.5" fill="#000" stroke="#000" stroke-width="0.3" text-anchor="start">XGB</text>
<line x1="647.2" y1="1385.9" x2="670.3" y2="1385.9" stroke="#00B4F0" stroke-width="3.0"/>
<text x="683" y="1391.5" font-size="15.5" fill="#000" stroke="#000" stroke-width="0.3" text-anchor="start">SVM</text>
<line x1="647.2" y1="1415.1" x2="670.3" y2="1415.1" stroke="#619CFF" stroke-width="3.0"/>
<text x="683" y="1420.7" font-size="15.5" fill="#000" stroke="#000" stroke-width="0.3" text-anchor="start">MLP</text>
<line x1="647.2" y1="1444.3" x2="670.3" y2="1444.3" stroke="#C77CFF" stroke-width="3.0"/>
<text x="683" y="1449.9" font-size="15.5" fill="#000" stroke="#000" stroke-width="0.3" text-anchor="start">LightGBM</text>
<line x1="647.2" y1="1473.5" x2="670.3" y2="1473.5" stroke="#F564E3" stroke-width="3.0"/>
<text x="683" y="1479.1" font-size="15.5" fill="#000" stroke="#000" stroke-width="0.3" text-anchor="start">KNN</text>
<line x1="647.2" y1="1502.7" x2="670.3" y2="1502.7" stroke="#FF64B0" stroke-width="3.0"/>
<text x="683" y="1508.3" font-size="15.5" fill="#000" stroke="#000" stroke-width="0.3" text-anchor="start">NBC</text>
<rect x="897.5" y="1024.3" width="697.9" height="699.1" fill="#fff"/>
<line x1="1008.16" y1="1024.3" x2="1008.16" y2="1723.4" stroke="#EBEBEB" stroke-width="1.2"/>
<line x1="1166.97" y1="1024.3" x2="1166.97" y2="1723.4" stroke="#EBEBEB" stroke-width="1.2"/>
<line x1="1325.78" y1="1024.3" x2="1325.78" y2="1723.4" stroke="#EBEBEB" stroke-width="1.2"/>
<line x1="1484.59" y1="1024.3" x2="1484.59" y2="1723.4" stroke="#EBEBEB" stroke-width="1.2"/>
<line x1="897.5" y1="1612.5" x2="1595.4" y2="1612.5" stroke="#EBEBEB" stroke-width="1.2"/>
<line x1="897.5" y1="1453.5" x2="1595.4" y2="1453.5" stroke="#EBEBEB" stroke-width="1.2"/>
<line x1="897.5" y1="1294.5" x2="1595.4" y2="1294.5" stroke="#EBEBEB" stroke-width="1.2"/>
<line x1="897.5" y1="1135.5" x2="1595.4" y2="1135.5" stroke="#EBEBEB" stroke-width="1.2"/>
<line x1="928.75" y1="1024.3" x2="928.75" y2="1723.4" stroke="#EBEBEB" stroke-width="1.7"/>
<line x1="1087.56" y1="1024.3" x2="1087.56" y2="1723.4" stroke="#EBEBEB" stroke-width="1.7"/>
<line x1="1246.38" y1="1024.3" x2="1246.38" y2="1723.4" stroke="#EBEBEB" stroke-width="1.7"/>
<line x1="1405.19" y1="1024.3" x2="1405.19" y2="1723.4" stroke="#EBEBEB" stroke-width="1.7"/>
<line x1="1564" y1="1024.3" x2="1564" y2="1723.4" stroke="#EBEBEB" stroke-width="1.7"/>
<line x1="897.5" y1="1692" x2="1595.4" y2="1692" stroke="#EBEBEB" stroke-width="1.7"/>
<line x1="897.5" y1="1533" x2="1595.4" y2="1533" stroke="#EBEBEB" stroke-width="1.7"/>
<line x1="897.5" y1="1374" x2="1595.4" y2="1374" stroke="#EBEBEB" stroke-width="1.7"/>
<line x1="897.5" y1="1215" x2="1595.4" y2="1215" stroke="#EBEBEB" stroke-width="1.7"/>
<line x1="897.5" y1="1056" x2="1595.4" y2="1056" stroke="#EBEBEB" stroke-width="1.7"/>
<clipPath id="clipD"><rect x="897.5" y="1024.3" width="697.9000000000001" height="699.1000000000001"/></clipPath>
<g clip-path="url(#clipD)">
<line x1="865.23" y1="1755.6" x2="1627.53" y2="992.4" stroke="#000" stroke-width="2.0"/>
</g>
<polyline points="957.62,1690.03 1015.37,1684.5 1073.12,1682.01 1130.87,1672.47 1188.62,1652.5 1246.38,1637.69 1304.13,1576.38 1361.88,1575.1 1419.63,1495.48 1477.38,1423.61 1535.13,1237.26" fill="none" stroke="#E31A1C" stroke-width="1.9" stroke-linejoin="round" stroke-linecap="butt"/>
<circle cx="957.62" cy="1690.03" r="3.3" fill="#E31A1C"/>
<circle cx="1015.37" cy="1684.5" r="3.3" fill="#E31A1C"/>
<circle cx="1073.12" cy="1682.01" r="3.3" fill="#E31A1C"/>
<circle cx="1130.87" cy="1672.47" r="3.3" fill="#E31A1C"/>
<circle cx="1188.62" cy="1652.5" r="3.3" fill="#E31A1C"/>
<circle cx="1246.38" cy="1637.69" r="3.3" fill="#E31A1C"/>
<circle cx="1304.13" cy="1576.38" r="3.3" fill="#E31A1C"/>
<circle cx="1361.88" cy="1575.1" r="3.3" fill="#E31A1C"/>
<circle cx="1419.63" cy="1495.48" r="3.3" fill="#E31A1C"/>
<circle cx="1477.38" cy="1423.61" r="3.3" fill="#E31A1C"/>
<circle cx="1535.13" cy="1237.26" r="3.3" fill="#E31A1C"/>
<rect x="897.5" y="1024.3" width="697.9" height="699.1" fill="none" stroke="#333333" stroke-width="1.4"/>
<rect x="897.5" y="995.0" width="697.9" height="29.3" fill="#CCCCCC" stroke="#333333" stroke-width="1.4"/>
<text x="1246.45" y="1014.6" font-size="15" fill="#1A1A1A" stroke="#1A1A1A" stroke-width="0.3" text-anchor="middle" font-weight="bold">XGB</text>
<line x1="928.75" y1="1723.4" x2="928.75" y2="1728.4" stroke="#333333" stroke-width="1.4"/>
<text x="928.75" y="1743.3" font-size="15.5" fill="#4D4D4D" stroke="#4D4D4D" stroke-width="0.3" text-anchor="middle">0</text>
<line x1="1087.56" y1="1723.4" x2="1087.56" y2="1728.4" stroke="#333333" stroke-width="1.4"/>
<text x="1087.56" y="1743.3" font-size="15.5" fill="#4D4D4D" stroke="#4D4D4D" stroke-width="0.3" text-anchor="middle">25</text>
<line x1="1246.38" y1="1723.4" x2="1246.38" y2="1728.4" stroke="#333333" stroke-width="1.4"/>
<text x="1246.38" y="1743.3" font-size="15.5" fill="#4D4D4D" stroke="#4D4D4D" stroke-width="0.3" text-anchor="middle">50</text>
<line x1="1405.19" y1="1723.4" x2="1405.19" y2="1728.4" stroke="#333333" stroke-width="1.4"/>
<text x="1405.19" y="1743.3" font-size="15.5" fill="#4D4D4D" stroke="#4D4D4D" stroke-width="0.3" text-anchor="middle">75</text>
<line x1="1564" y1="1723.4" x2="1564" y2="1728.4" stroke="#333333" stroke-width="1.4"/>
<text x="1564" y="1743.3" font-size="15.5" fill="#4D4D4D" stroke="#4D4D4D" stroke-width="0.3" text-anchor="middle">100</text>
<line x1="892.5" y1="1692" x2="897.5" y2="1692" stroke="#333333" stroke-width="1.4"/>
<text x="888.3" y="1697.1" font-size="15.5" fill="#4D4D4D" stroke="#4D4D4D" stroke-width="0.3" text-anchor="end">0</text>
<line x1="892.5" y1="1533" x2="897.5" y2="1533" stroke="#333333" stroke-width="1.4"/>
<text x="888.3" y="1538.1" font-size="15.5" fill="#4D4D4D" stroke="#4D4D4D" stroke-width="0.3" text-anchor="end">25</text>
<line x1="892.5" y1="1374" x2="897.5" y2="1374" stroke="#333333" stroke-width="1.4"/>
<text x="888.3" y="1379.1" font-size="15.5" fill="#4D4D4D" stroke="#4D4D4D" stroke-width="0.3" text-anchor="end">50</text>
<line x1="892.5" y1="1215" x2="897.5" y2="1215" stroke="#333333" stroke-width="1.4"/>
<text x="888.3" y="1220.1" font-size="15.5" fill="#4D4D4D" stroke="#4D4D4D" stroke-width="0.3" text-anchor="end">75</text>
<line x1="892.5" y1="1056" x2="897.5" y2="1056" stroke="#333333" stroke-width="1.4"/>
<text x="888.3" y="1061.1" font-size="15.5" fill="#4D4D4D" stroke="#4D4D4D" stroke-width="0.3" text-anchor="end">100</text>
<text x="1246.45" y="1765.3" font-size="18.7" fill="#000" stroke="#000" stroke-width="0.3" text-anchor="middle">midpoint</text>
<text x="0" y="0" font-size="18.7" fill="#000" stroke="#000" stroke-width="0.3" text-anchor="middle" transform="translate(855,1374.35) rotate(-90)">Percent</text>
<text class="lab" x="0" y="0" font-size="50" fill="#000" stroke="#000" stroke-width="1.0" transform="translate(29.8,39.9) scale(0.94,0.99)">(A)</text>
<text class="lab" x="0" y="0" font-size="50" fill="#000" stroke="#000" stroke-width="1.0" transform="translate(808.35,45.9) scale(0.89,0.99)">(B)</text>
<text class="lab" x="0" y="0" font-size="50" fill="#000" stroke="#000" stroke-width="1.0" transform="translate(-1.4,933.9) scale(0.89,0.99)">(C)</text>
<text class="lab" x="0" y="0" font-size="50" fill="#000" stroke="#000" stroke-width="1.0" transform="translate(802.5,930.1) scale(0.92,0.99)">(D)</text>
</svg>
</body></html>
